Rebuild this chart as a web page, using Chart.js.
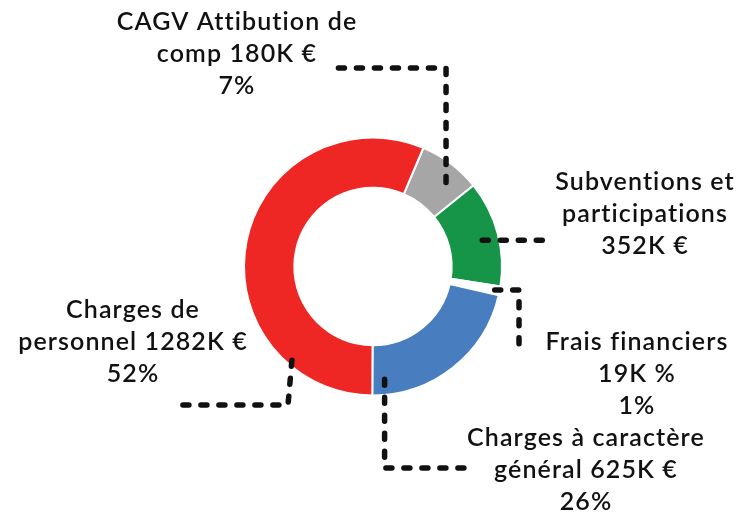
<!DOCTYPE html>
<html>
<head>
<meta charset="utf-8">
<script src="https://cdn.jsdelivr.net/npm/chart.js@4.4.1/dist/chart.umd.min.js"></script>
<style>
  body { margin: 0; background: #fff; }
  #chart { display: block; }
</style>
</head>
<body>
<canvas id="chart" width="756" height="515"></canvas>
<script>
// Slices in drawing order (clockwise from the top-right)
const categories = ['CAGV Attibution de comp', 'Subventions et participations', 'Frais financiers', 'Charges à caractère général', 'Charges de personnel'];
// share of the ring taken by each slice (%)
const shares = [7.8, 13.3, 1.1, 21.5, 56.3];
const amounts = ['180K €', '352K €', '19K %', '625K €', '1282K €'];
const percents = ['7%', '', '1%', '26%', '52%'];
const colors = ['#a6a6a6', '#169447', '#ffffff', '#487dbf', '#ee2624'];

// label text, already broken into lines like the original
const labelLines = [
    ['CAGV Attibution de', 'comp ' + amounts[0], percents[0]],
    ['Subventions et', 'participations', amounts[1]],
    ['Frais financiers', amounts[2], percents[2]],
    ['Charges à caractère', 'général ' + amounts[3], percents[3]],
    ['Charges de', 'personnel ' + amounts[4], percents[4]]
];

// label placement and leader line routing (layout only)
const labelPos = [
    { x: 237, y: 22 },
    { x: 645, y: 182 },
    { x: 637, y: 342 },
    { x: 586, y: 438 },
    { x: 133, y: 310 }
];
// where the leader starts inside the slice: t = along the arc, f = across the ring
const anchors = [
    { t: 0.64, f: 0.65 },
    { t: 0.53, f: 0.67 },
    { t: 0.5, f: 0.9 },
    { t: 0.92, f: 0.69 },
    { t: 0.2, f: 0.9 }
];
// elbows: 'v' = go vertical to y, 'h' = go horizontal to x, 'p' = go to point
const routes = [
    [['v', 68], ['h', 333]],
    [['h', 553]],
    [['h', 519], ['v', 350]],
    [['v', 468], ['h', 465]],
    [['p', 288, 405], ['h', 180]]
];

const labelPlugin = {
    id: 'sliceLabels',
    afterDraw(chart) {
        const ctx = chart.ctx;
        const arcs = chart.getDatasetMeta(0).data;

        // leader lines
        ctx.save();
        ctx.strokeStyle = '#111';
        ctx.lineWidth = 5.5;
        ctx.lineCap = 'round';
        ctx.setLineDash([6, 12]);
        arcs.forEach((arc, i) => {
            const p = arc.getProps(['x', 'y', 'startAngle', 'endAngle', 'innerRadius', 'outerRadius'], true);
            const a = anchors[i];
            const ang = p.startAngle + a.t * (p.endAngle - p.startAngle);
            const r = p.innerRadius + a.f * (p.outerRadius - p.innerRadius);
            let x = p.x + Math.cos(ang) * r;
            let y = p.y + Math.sin(ang) * r;
            ctx.beginPath();
            ctx.moveTo(x, y);
            routes[i].forEach(step => {
                if (step[0] === 'v') y = step[1];
                else if (step[0] === 'h') x = step[1];
                else { x = step[1]; y = step[2]; }
                ctx.lineTo(x, y);
            });
            ctx.stroke();
        });
        ctx.restore();

        // texts
        ctx.save();
        ctx.fillStyle = '#111';
        ctx.font = '600 25px Lato';
        ctx.letterSpacing = '1.1px';
        ctx.textAlign = 'center';
        ctx.textBaseline = 'middle';
        labelLines.forEach((lines, i) => {
            lines.forEach((line, j) => {
                if (line) ctx.fillText(line, labelPos[i].x, labelPos[i].y + j * 32);
            });
        });
        ctx.restore();
    }
};

new Chart(document.getElementById('chart'), {
    type: 'doughnut',
    data: {
        labels: categories,
        datasets: [{
            data: shares,
            backgroundColor: colors,
            borderColor: '#ffffff',
            borderWidth: 2
        }]
    },
    options: {
        responsive: false,
        animation: false,
        rotation: 23,
        cutout: '61%',
        layout: {
            padding: { top: 136, bottom: 118, left: 243, right: 253 }
        },
        plugins: {
            legend: { display: false },
            tooltip: { enabled: false }
        }
    },
    plugins: [labelPlugin]
});
</script>
</body>
</html>
